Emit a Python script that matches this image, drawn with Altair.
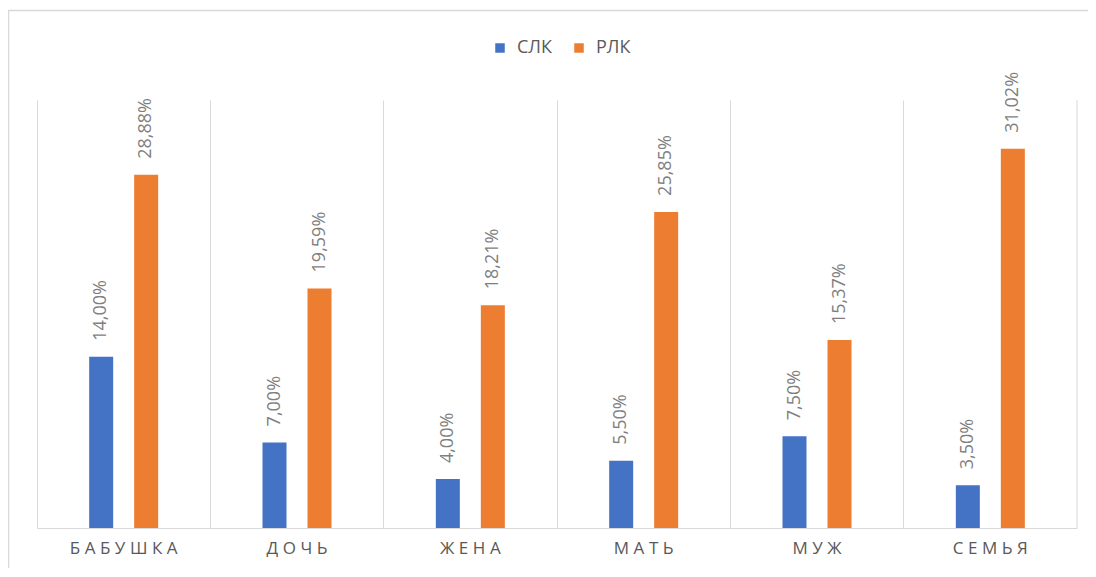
import altair as alt
import pandas as pd

categories = ["БАБУШКА", "ДОЧЬ", "ЖЕНА", "МАТЬ", "МУЖ", "СЕМЬЯ"]
series = ["СЛК", "РЛК"]
slk = [0.14, 0.07, 0.04, 0.055, 0.075, 0.035]
rlk = [0.2888, 0.1959, 0.1821, 0.2585, 0.1537, 0.3102]
colors = ["#4472C4", "#ED7D31"]

rows = []
for c, a, b in zip(categories, slk, rlk):
    rows.append({"cat": c, "series": "СЛК", "value": a})
    rows.append({"cat": c, "series": "РЛК", "value": b})
df = pd.DataFrame(rows)

W, H = 1040, 428
FONT = "Open Sans"

x = alt.X("cat:N", sort=categories, title=None,
          scale=alt.Scale(paddingInner=0, paddingOuter=0),
          axis=alt.Axis(labelAngle=0, labelFontSize=17, labelColor="#595959",
                        labelFont=FONT, labelPadding=12, ticks=False,
                        grid=True, gridColor="#d9d9d9", gridWidth=1,
                        bandPosition=0, domainColor="#d9d9d9", domainWidth=1,
                        labelExpr="join(split(datum.label, ''), '\u2009\u200a')"))
xo = alt.XOffset("series:N", sort=series,
                 scale=alt.Scale(paddingInner=0.4667, paddingOuter=0,
                                 range=[52.17, 121.17]))
y = alt.Y("value:Q", axis=None, scale=alt.Scale(domain=[0, 0.35]))
color = alt.Color("series:N", sort=series,
                  scale=alt.Scale(domain=series, range=colors),
                  legend=alt.Legend(title=None, orient="none", direction="horizontal",
                                    legendX=454, legendY=-61, symbolType="square",
                                    symbolSize=90, symbolStrokeWidth=0,
                                    labelFontSize=18, labelFont=FONT,
                                    labelColor="#595959", labelOffset=8,
                                    columnPadding=18))

base = alt.Chart(df)
bars = base.mark_bar().encode(x=x, xOffset=xo, y=y, color=color)
labels = base.mark_text(angle=270, align="left", baseline="middle", dx=16,
                        fontSize=18, font=FONT, color="#7f7f7f").encode(
    x=x, xOffset=xo, y=y,
    text=alt.Text("value:Q", format=".2%"))

border_df = pd.DataFrame({"k": [0]})
border = alt.Chart(border_df).mark_rect(fill=None, stroke="#d9d9d9", strokeWidth=1.5,
                                         clip=False).encode(
    x=alt.value(-28.5), x2=alt.value(1100), y=alt.value(-89.5), y2=alt.value(600))
right_line = alt.Chart(border_df).mark_rule(color="#d9d9d9", strokeWidth=1).encode(
    x=alt.value(W), y=alt.value(0), y2=alt.value(H))

chart = alt.layer(border, bars, labels, right_line).properties(
    width=W, height=H,
    autosize=alt.AutoSizeParams(type="none"),
    padding={"left": 29, "top": 92, "right": 11, "bottom": 40},
).configure_view(stroke=None)

chart.save("out.html", embed_options={"renderer": "svg", "actions": False,
                                      "formatLocale": {"decimal": ",", "thousands": "\u00a0",
                                                       "grouping": [3], "currency": ["", " ₽"]}})
